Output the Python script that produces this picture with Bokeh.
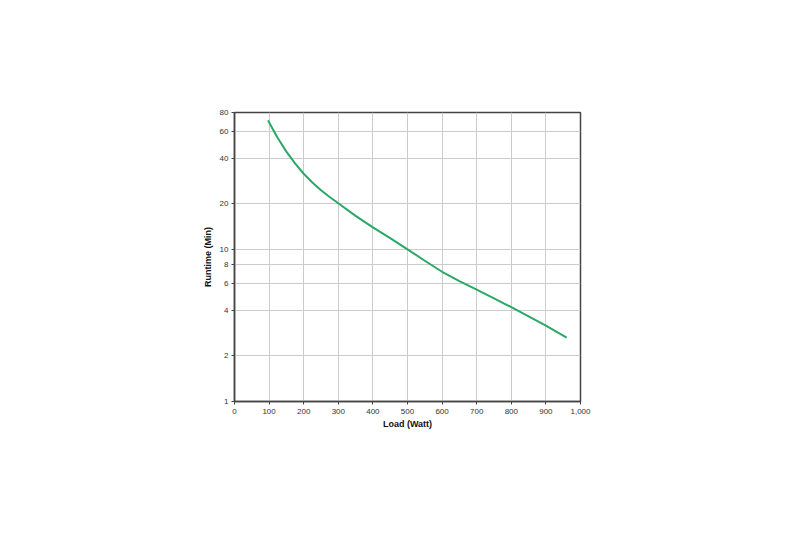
from bokeh.plotting import figure
from bokeh.models import FixedTicker, NumeralTickFormatter, CustomJSTickFormatter, Range1d
from bokeh.embed import file_html
from bokeh.resources import INLINE

load_w = [97, 110, 125, 150, 175, 200, 225, 250, 275, 300, 350, 400, 450, 500, 550,
          600, 650, 700, 750, 800, 850, 900, 960]
runtime_min = [71, 62.5, 54.3, 44.2, 37.0, 31.6, 27.7, 24.6, 22.2, 20.2, 16.7, 14.0,
               11.9, 10.05, 8.45, 7.15, 6.2, 5.45, 4.78, 4.18, 3.63, 3.16, 2.63]

x_ticks = [0, 100, 200, 300, 400, 500, 600, 700, 800, 900, 1000]
y_ticks = [1, 2, 4, 6, 8, 10, 20, 40, 60, 80]

p = figure(width=784, height=517, y_axis_type="log",
           x_range=Range1d(0, 1000), y_range=Range1d(1, 80),
           output_backend="svg", toolbar_location=None,
           min_border_left=234, min_border_right=204,
           min_border_top=112, min_border_bottom=116)

p.line(load_w, runtime_min, line_color="#2aa866", line_width=2,
       line_join="round")

p.xaxis.ticker = FixedTicker(ticks=x_ticks, minor_ticks=[])
p.yaxis.ticker = FixedTicker(ticks=y_ticks, minor_ticks=[])
p.xaxis.formatter = NumeralTickFormatter(format="0,0")
p.yaxis.formatter = CustomJSTickFormatter(code="return tick.toString();")

for ax in (p.xaxis, p.yaxis):
    ax.axis_line_color = "#444444"
    ax.axis_line_width = 1.5
    ax.major_tick_line_color = "#444444"
    ax.major_tick_out = 3
    ax.major_tick_in = 0
    ax.minor_tick_line_color = None
    ax.major_label_text_font = "Liberation Sans"
    ax.major_label_text_font_size = "8px"
    ax.major_label_text_color = "#333333"
    ax.axis_label_text_font = "Liberation Sans"
    ax.axis_label_text_font_size = "9px"
    ax.axis_label_text_font_style = "bold"
    ax.axis_label_text_color = "#111111"

p.xaxis.axis_label = "Load (Watt)"
p.yaxis.axis_label = "Runtime (Min)"
p.xaxis.major_label_standoff = 4
p.yaxis.major_label_standoff = 3
p.xaxis.axis_label_standoff = 2
p.yaxis.axis_label_standoff = 4

p.xgrid.grid_line_color = "#cccccc"
p.ygrid.grid_line_color = "#cccccc"
p.xgrid.ticker = FixedTicker(ticks=x_ticks)
p.ygrid.ticker = FixedTicker(ticks=y_ticks)

p.outline_line_color = "#444444"
p.outline_line_width = 1.5
p.background_fill_color = "white"
p.border_fill_color = "white"

open("out.html", "w").write(file_html(p, INLINE))
